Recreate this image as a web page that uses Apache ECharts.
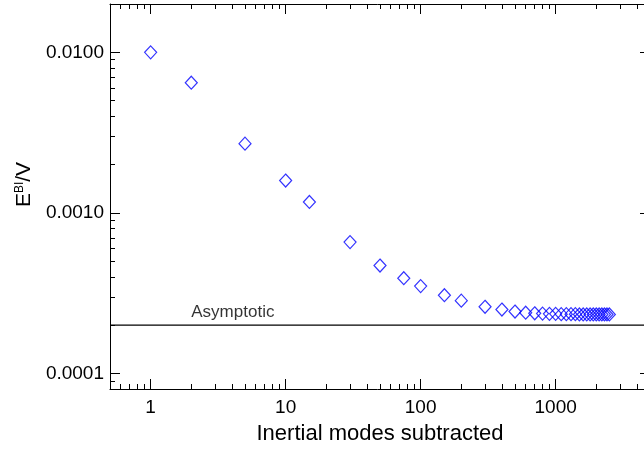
<!DOCTYPE html>
<html>
<head>
<meta charset="utf-8">
<script src="https://cdn.jsdelivr.net/npm/echarts@6/dist/echarts.min.js"></script>
<style>
html,body{margin:0;padding:0;background:#fff;}
#chart{width:644px;height:450px;}
</style>
</head>
<body>
<div id="chart"></div>
<script>
// ---- data ----
const modes = [1, 2, 5, 10, 15, 30, 50, 75, 100, 150, 200,
  300, 400, 500, 600, 700, 800, 900, 1000, 1100, 1200, 1300, 1400, 1500,
  1600, 1700, 1800, 1900, 2000, 2100, 2200, 2300, 2400, 2500];
const energy = [0.0100, 0.00647, 0.00270, 0.00159, 0.00117, 0.000658, 0.000470, 0.000392, 0.000350, 0.000307, 0.000284,
  0.000260, 0.000250, 0.000243, 0.000239, 0.000237, 0.000236, 0.000235, 0.000235, 0.000234, 0.000234, 0.000234, 0.000234, 0.000233,
  0.000233, 0.000233, 0.000233, 0.000233, 0.000233, 0.000233, 0.000233, 0.000233, 0.000233, 0.000233];
const asymptote = 0.0002;
const asymptoteLabel = 'Asymptotic';
const asymptoteLabelX = 2;
const xMajor = [1, 10, 100, 1000];
const xMinor = [0.6, 0.7, 0.8, 0.9, 2, 3, 4, 5, 6, 7, 8, 9, 20, 30, 40, 50, 60, 70, 80, 90,
  200, 300, 400, 500, 600, 700, 800, 900, 2000, 3000, 4000];
const yMajor = [0.0001, 0.001, 0.01];
const yMinor = [0.00009, 0.0002, 0.0003, 0.0004, 0.0005, 0.0006, 0.0007, 0.0008, 0.0009,
  0.002, 0.003, 0.004, 0.005, 0.006, 0.007, 0.008, 0.009];
const xRange = [0.5, 5000];
const yRange = [0.00008, 0.02];
const xTitle = 'Inertial modes subtracted';

// ---- chart ----
const FONT = '"Liberation Sans", Arial, Helvetica, sans-serif';
const chart = echarts.init(document.getElementById('chart'), null, {renderer: 'canvas'});

function xAx(pos, ticks, len, showLine, showLabels, extra) {
  return Object.assign({
    type: 'log', logBase: 10, min: xRange[0], max: xRange[1], position: pos,
    axisLine: {show: showLine, lineStyle: {color: '#000', width: 1}},
    axisTick: {show: true, inside: true, length: len, customValues: ticks, lineStyle: {color: '#000', width: 1}},
    axisLabel: showLabels ? {
      show: true, customValues: ticks, margin: 9, color: '#000', fontSize: 19, fontFamily: FONT,
      formatter: v => String(Math.round(v))
    } : {show: false},
    splitLine: {show: false}, minorTick: {show: false}, minorSplitLine: {show: false}
  }, extra || {});
}
function yAx(pos, ticks, len, showLine, showLabels, extra) {
  return Object.assign({
    type: 'log', logBase: 10, min: yRange[0], max: yRange[1], position: pos,
    axisLine: {show: showLine, lineStyle: {color: '#000', width: 1}},
    axisTick: {show: true, inside: true, length: len, customValues: ticks, lineStyle: {color: '#000', width: 1}},
    axisLabel: showLabels ? {
      show: true, customValues: ticks, margin: 6, color: '#000', fontSize: 19, fontFamily: FONT,
      formatter: v => Number(v).toFixed(4)
    } : {show: false},
    splitLine: {show: false}, minorTick: {show: false}, minorSplitLine: {show: false}
  }, extra || {});
}

const option = {
  backgroundColor: '#fff',
  animation: false,
  grid: {left: 110, width: 540, top: 4, height: 385, containLabel: false, outerBoundsMode: 'none'},
  xAxis: [
    xAx('bottom', xMajor, 10, true, true, {
      name: xTitle, nameLocation: 'middle', nameGap: 34,
      nameTextStyle: {color: '#000', fontSize: 22, fontFamily: FONT}
    }),
    xAx('bottom', xMinor, 5, false, false),
    xAx('top', xMajor, 10, true, false),
    xAx('top', xMinor, 5, false, false)
  ],
  yAxis: [
    yAx('left', yMajor, 10, true, true, {
      name: '{e|E}{s|BI}{e|/V}', nameLocation: 'middle', nameGap: 71,
      nameTextStyle: {
        color: '#000', fontFamily: FONT, padding: [0, 0, 0, 24],
        rich: {
          e: {fontSize: 21, fontFamily: FONT, color: '#000', verticalAlign: 'bottom'},
          s: {fontSize: 12, fontFamily: FONT, color: '#000', verticalAlign: 'top'}
        }
      }
    }),
    yAx('left', yMinor, 5, false, false),
    yAx('right', yMajor, 10, true, false),
    yAx('right', yMinor, 5, false, false)
  ],
  series: [
    {
      type: 'line',
      xAxisIndex: 0, yAxisIndex: 0,
      data: [[xRange[0], asymptote], [xRange[1], asymptote]],
      symbol: 'none', silent: true,
      lineStyle: {color: '#000', width: 1.3},
      z: 1
    },
    {
      type: 'scatter',
      xAxisIndex: 0, yAxisIndex: 0,
      data: [[asymptoteLabelX, asymptote]],
      symbolSize: 0, silent: true,
      label: {
        show: true, formatter: asymptoteLabel, position: [0, -4],
        align: 'left', verticalAlign: 'bottom',
        color: '#000', fontSize: 17, fontFamily: FONT
      }
    },
    {
      type: 'scatter',
      xAxisIndex: 0, yAxisIndex: 0,
      data: modes.map((m, i) => [m, energy[i]]),
      symbol: 'diamond',
      symbolSize: [12, 13],
      itemStyle: {color: 'rgba(0,0,0,0)', borderColor: '#0000ff', borderWidth: 1.2},
      emphasis: {disabled: true},
      z: 3
    }
  ]
};
chart.setOption(option);
</script>
</body>
</html>
